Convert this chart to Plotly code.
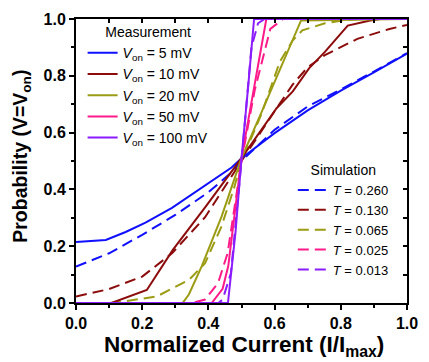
import plotly.graph_objects as go

# ---- data ----
meas_names = ["<i>V</i><sub>on</sub> = 5 mV", "<i>V</i><sub>on</sub> = 10 mV",
              "<i>V</i><sub>on</sub> = 20 mV", "<i>V</i><sub>on</sub> = 50 mV",
              "<i>V</i><sub>on</sub> = 100 mV"]
sim_names = ["<i>T</i> = 0.260", "<i>T</i> = 0.130", "<i>T</i> = 0.065",
             "<i>T</i> = 0.025", "<i>T</i> = 0.013"]
colors = ["#1010ff", "#8c0c0c", "#9c9c14", "#ff1a8a", "#8a1cff"]

meas_5_x = [0, 0.05, 0.09, 0.15, 0.21, 0.29, 0.39, 0.47, 0.5, 0.6, 0.7, 0.8, 0.9, 1.0]
meas_5_y = [0.215, 0.218, 0.222, 0.25, 0.283, 0.335, 0.413, 0.477, 0.51, 0.598, 0.678, 0.748, 0.812, 0.878]
meas_10_x = [0, 0.107, 0.214, 0.292, 0.39, 0.5, 0.606, 0.655, 0.704, 0.752, 0.821, 0.889, 0.92, 1.0]
meas_10_y = [0, 0, 0.046, 0.186, 0.337, 0.51, 0.686, 0.745, 0.826, 0.884, 0.977, 0.995, 1.0, 1.0]
meas_20_x = [0, 0.322, 0.341, 0.38, 0.44, 0.5, 0.56, 0.6, 0.65, 0.68, 1.0]
meas_20_y = [0, 0, 0.03, 0.13, 0.305, 0.51, 0.67, 0.78, 0.915, 0.995, 1.0]
meas_50_x = [0, 0.41, 0.443, 0.46, 0.5, 0.575, 1.0]
meas_50_y = [0, 0, 0.05, 0.13, 0.51, 1.0, 1.0]
meas_100_x = [0, 0.459, 0.482, 0.5, 0.52, 0.538, 1.0]
meas_100_y = [0, 0, 0.25, 0.51, 0.76, 1.0, 1.0]

sim_260_x = [0, 0.1, 0.2, 0.3, 0.4, 0.47, 0.5, 0.6, 0.7, 0.8, 0.9, 1.0]
sim_260_y = [0.128, 0.175, 0.24, 0.31, 0.39, 0.46, 0.5, 0.61, 0.692, 0.752, 0.815, 0.88]
sim_130_x = [0, 0.1, 0.2, 0.29, 0.39, 0.46, 0.5, 0.6, 0.655, 0.7, 0.752, 0.85, 0.947, 1.0]
sim_130_y = [0.023, 0.049, 0.093, 0.175, 0.302, 0.43, 0.5, 0.675, 0.77, 0.83, 0.873, 0.93, 0.965, 0.979]
sim_065_x = [0, 0.1, 0.146, 0.244, 0.341, 0.39, 0.439, 0.478, 0.5, 0.56, 0.616, 0.655, 0.684, 0.752, 0.8, 0.86, 1.0]
sim_065_y = [0, 0, 0.006, 0.023, 0.081, 0.14, 0.268, 0.407, 0.5, 0.665, 0.85, 0.925, 0.96, 0.985, 0.994, 1.0, 1.0]
sim_025_x = [0, 0.35, 0.39, 0.429, 0.458, 0.5, 0.54, 0.587, 0.626, 1.0]
sim_025_y = [0, 0, 0.012, 0.07, 0.175, 0.5, 0.75, 0.965, 1.0, 1.0]
sim_013_x = [0, 0.43, 0.443, 0.468, 0.5, 0.53, 0.55, 0.57, 1.0]
sim_013_y = [0, 0, 0.012, 0.105, 0.5, 0.9, 0.985, 1.0, 1.0]

x_ticks = [0.0, 0.2, 0.4, 0.6, 0.8, 1.0]
y_ticks = [0.0, 0.2, 0.4, 0.6, 0.8, 1.0]

meas = [(meas_5_x, meas_5_y), (meas_10_x, meas_10_y), (meas_20_x, meas_20_y),
        (meas_50_x, meas_50_y), (meas_100_x, meas_100_y)]
sims = [(sim_260_x, sim_260_y), (sim_130_x, sim_130_y), (sim_065_x, sim_065_y),
        (sim_025_x, sim_025_y), (sim_013_x, sim_013_y)]

FONT = "Liberation Sans, Arial, sans-serif"
fig = go.Figure()

for (xs, ys), c, n in zip(sims, colors, sim_names):
    fig.add_trace(go.Scatter(x=xs, y=ys, mode="lines", name=n, legend="legend2",
                             line=dict(color=c, width=2, dash="11px,6px")))
for (xs, ys), c, n in zip(meas, colors, meas_names):
    fig.add_trace(go.Scatter(x=xs, y=ys, mode="lines", name=n, legend="legend",
                             line=dict(color=c, width=2)))

# helper (invisible) trace so the mirrored tick axes are drawn
fig.add_trace(go.Scatter(x=[None], y=[None], xaxis="x2", yaxis="y2",
                         showlegend=False, hoverinfo="skip"))

tickfont = dict(family=FONT, size=16, color="black", weight="bold")
fig.update_layout(
    width=429, height=362,
    margin=dict(l=76, r=11, t=17, b=59),
    paper_bgcolor="white", plot_bgcolor="white",
    font=dict(family=FONT, color="black"),
    xaxis=dict(range=[0, 1], tickvals=x_ticks, tickformat=".1f", showgrid=False, zeroline=False,
               showline=True, linecolor="black", linewidth=2, mirror=True,
               ticks="outside", ticklen=5, tickwidth=1.5, tickcolor="black",
               minor=dict(dtick=0.1, tick0=0, ticks="outside", ticklen=3, tickwidth=1.5, tickcolor="black"),
               tickfont=tickfont),
    yaxis=dict(range=[0, 1], tickvals=y_ticks, tickformat=".1f", showgrid=False, zeroline=False,
               showline=True, linecolor="black", linewidth=2, mirror=True,
               ticks="outside", ticklen=5, tickwidth=1.5, tickcolor="black",
               minor=dict(dtick=0.1, tick0=0, ticks="outside", ticklen=3, tickwidth=1.5, tickcolor="black"),
               tickfont=tickfont),
    xaxis2=dict(range=[0, 1], overlaying="x", side="top", dtick=0.1, tick0=0,
                ticks="inside", ticklen=4, tickwidth=1.5, tickcolor="black",
                showticklabels=False, showgrid=False, zeroline=False, showline=False),
    yaxis2=dict(range=[0, 1], overlaying="y", side="right", dtick=0.1, tick0=0,
                ticks="inside", ticklen=4, tickwidth=1.5, tickcolor="black",
                showticklabels=False, showgrid=False, zeroline=False, showline=False),
    legend=dict(x=0.02, y=1.0, xanchor="left", yanchor="top",
                bgcolor="rgba(0,0,0,0)", font=dict(family=FONT, size=14, color="black"),
                title=dict(text="Measurement", side="top center",
                           font=dict(family=FONT, size=14, color="black"))),
    legend2=dict(x=0.655, y=0.515, xanchor="left", yanchor="top",
                 bgcolor="rgba(0,0,0,0)", font=dict(family=FONT, size=13, color="black"),
                 title=dict(text="Simulation", side="top center",
                            font=dict(family=FONT, size=14, color="black"))),
    annotations=[
        dict(text="<b>Normalized Current (I/I<sub>max</sub>)</b>", xref="paper", yref="paper",
             x=0.507, y=-0.15, xanchor="center", yanchor="middle", showarrow=False,
             font=dict(family=FONT, size=22.5, color="black")),
        dict(text="<b>Probability (V=V<sub>on</sub>)</b>", xref="paper", yref="paper",
             x=-0.163, y=0.515, xanchor="center", yanchor="middle", textangle=-90, showarrow=False,
             font=dict(family=FONT, size=19.5, color="black")),
    ],
)

fig.write_html("out.html")
